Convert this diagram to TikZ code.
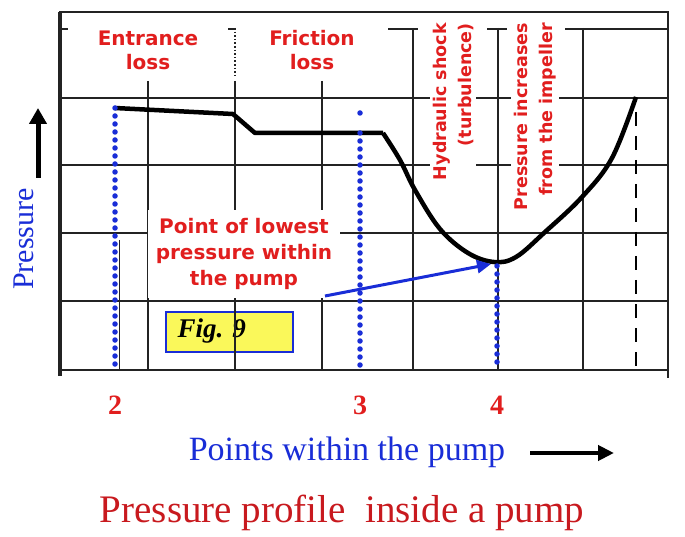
\documentclass[tikz,border=0pt]{standalone}
\usepackage{fontspec}
\setmainfont{Liberation Serif}
\newfontfamily\lossfont{DejaVu Sans}
\usetikzlibrary{arrows.meta,positioning}
\definecolor{lblred}{RGB}{225,30,30}
\definecolor{ttlred}{RGB}{200,25,30}
\definecolor{ptblue}{RGB}{25,45,215}
\definecolor{figyel}{RGB}{250,248,90}
\definecolor{gridgray}{RGB}{35,35,35}

\begin{document}
\begin{tikzpicture}[x=1pt,y=-1pt,
  grid/.style={draw=gridgray,line width=1.6pt},
  loss/.style={text=lblred,font=\lossfont\bfseries\fontsize{20}{24}\selectfont,align=center},
  turb/.style={text=lblred,font=\lossfont\bfseries\fontsize{17.5}{25}\selectfont,align=right,rotate=90,fill=white,inner sep=3pt},
  dots/.style={draw=ptblue,line width=5.5pt,line cap=round,dash pattern=on 0pt off 8pt},
  digit/.style={text=lblred,font=\bfseries\fontsize{28}{30}\selectfont}]
\useasboundingbox (0,0) rectangle (685,537);
% fig box sits under the grid
\node[draw=ptblue,fill=figyel,line width=1.2pt,minimum width=127pt,minimum height=40pt] (figbox) at (229.5,332) {};
\node[anchor=west,font=\bfseries\itshape\fontsize{27}{28}\selectfont] (figtxt) at (174,331) {Fig. 9};
% grid
\foreach \gx in {148,235,322} \draw[grid] (\gx,81) -- (\gx,370);
\foreach \gx in {413,498,583} \draw[grid] (\gx,28) -- (\gx,370);
\draw[grid,dotted] (235,28) -- (235,78);
\draw[grid,line width=1pt] (119,240) -- (119,370);
\foreach \gy in {98,165,233,301} \draw[grid] (60,\gy) -- (668,\gy);
\draw[grid] (60,29) -- (68,29) (228,29) -- (236,29) (388,29) -- (418,29)
  (487,29) -- (507,29) (565,29) -- (668,29);
\draw[grid,line width=2pt] (60,12) rectangle (668,370);
\draw[grid,line width=3.5pt] (60,12) -- (60,376);
\draw[grid] (668,370) -- (668,378);
% labels
\node[loss] (entr) at (148,50) {Entrance\\loss};
\node[loss] (fric) at (312,50) {Friction\\loss};
\node[turb,anchor=east] (hyd) at (453,20) {Hydraulic shock\\(turbulence)};
\node[turb,anchor=east] (impl) at (535,20) {Pressure increases\\from the impeller};
\node[loss,fill=white,inner sep=8pt,font=\lossfont\bfseries\fontsize{20}{26}\selectfont] (lowest) at (244,254)
  {Point of lowest\\pressure within\\the pump};
% profile
\draw[line width=4.5pt,line join=round] (115,108) -- (233,114) -- (255,133) -- (383,133)
  plot[smooth,tension=0.6] coordinates {(383,133) (400,160) (415,190) (440,229) (468,253) (494,262)
  (516,257) (545,232) (582,197) (612,158) (636,97)};
\draw[line width=2pt,dash pattern=on 14pt off 10pt] (636,112) -- (636,368);
\draw[dots] (115,108) -- (115,368);
\draw[dots] (360,113) -- (360,114) (360,133) -- (360,368);
\draw[dots] (497,266) -- (497,368);
\coordinate (tail) at (325,296);
\coordinate (low) at (491,264);
\draw[ptblue,line width=3pt,-{Triangle[length=14pt,width=13pt]}] (tail) -- (low);
% axes
\node[rotate=90,text=ptblue,font=\fontsize{30}{32}\selectfont] (ylbl) at (24,239) {Pressure};
\coordinate (ybot) at (38,178);
\coordinate (ytop) at (38,108);
\draw[line width=5pt,-{Triangle[length=16pt,width=17pt]}] (ybot) -- (ytop);
\node[digit] (p2) at (115,405) {2};
\node[digit] (p3) at (360,405) {3};
\node[digit] (p4) at (497,405) {4};
\node[text=ptblue,font=\fontsize{34}{36}\selectfont] (xlbl) at (347,452) {Points within the pump};
\coordinate (xbeg) at (530,453);
\coordinate (xend) at (614,453);
\draw[line width=4pt,-{Triangle[length=16pt,width=15pt]}] (xbeg) -- (xend);
\node[text=ttlred,font=\fontsize{39}{40}\selectfont] (title) at (342,513) {Pressure profile\ \ inside a pump};
\end{tikzpicture}
\end{document}
